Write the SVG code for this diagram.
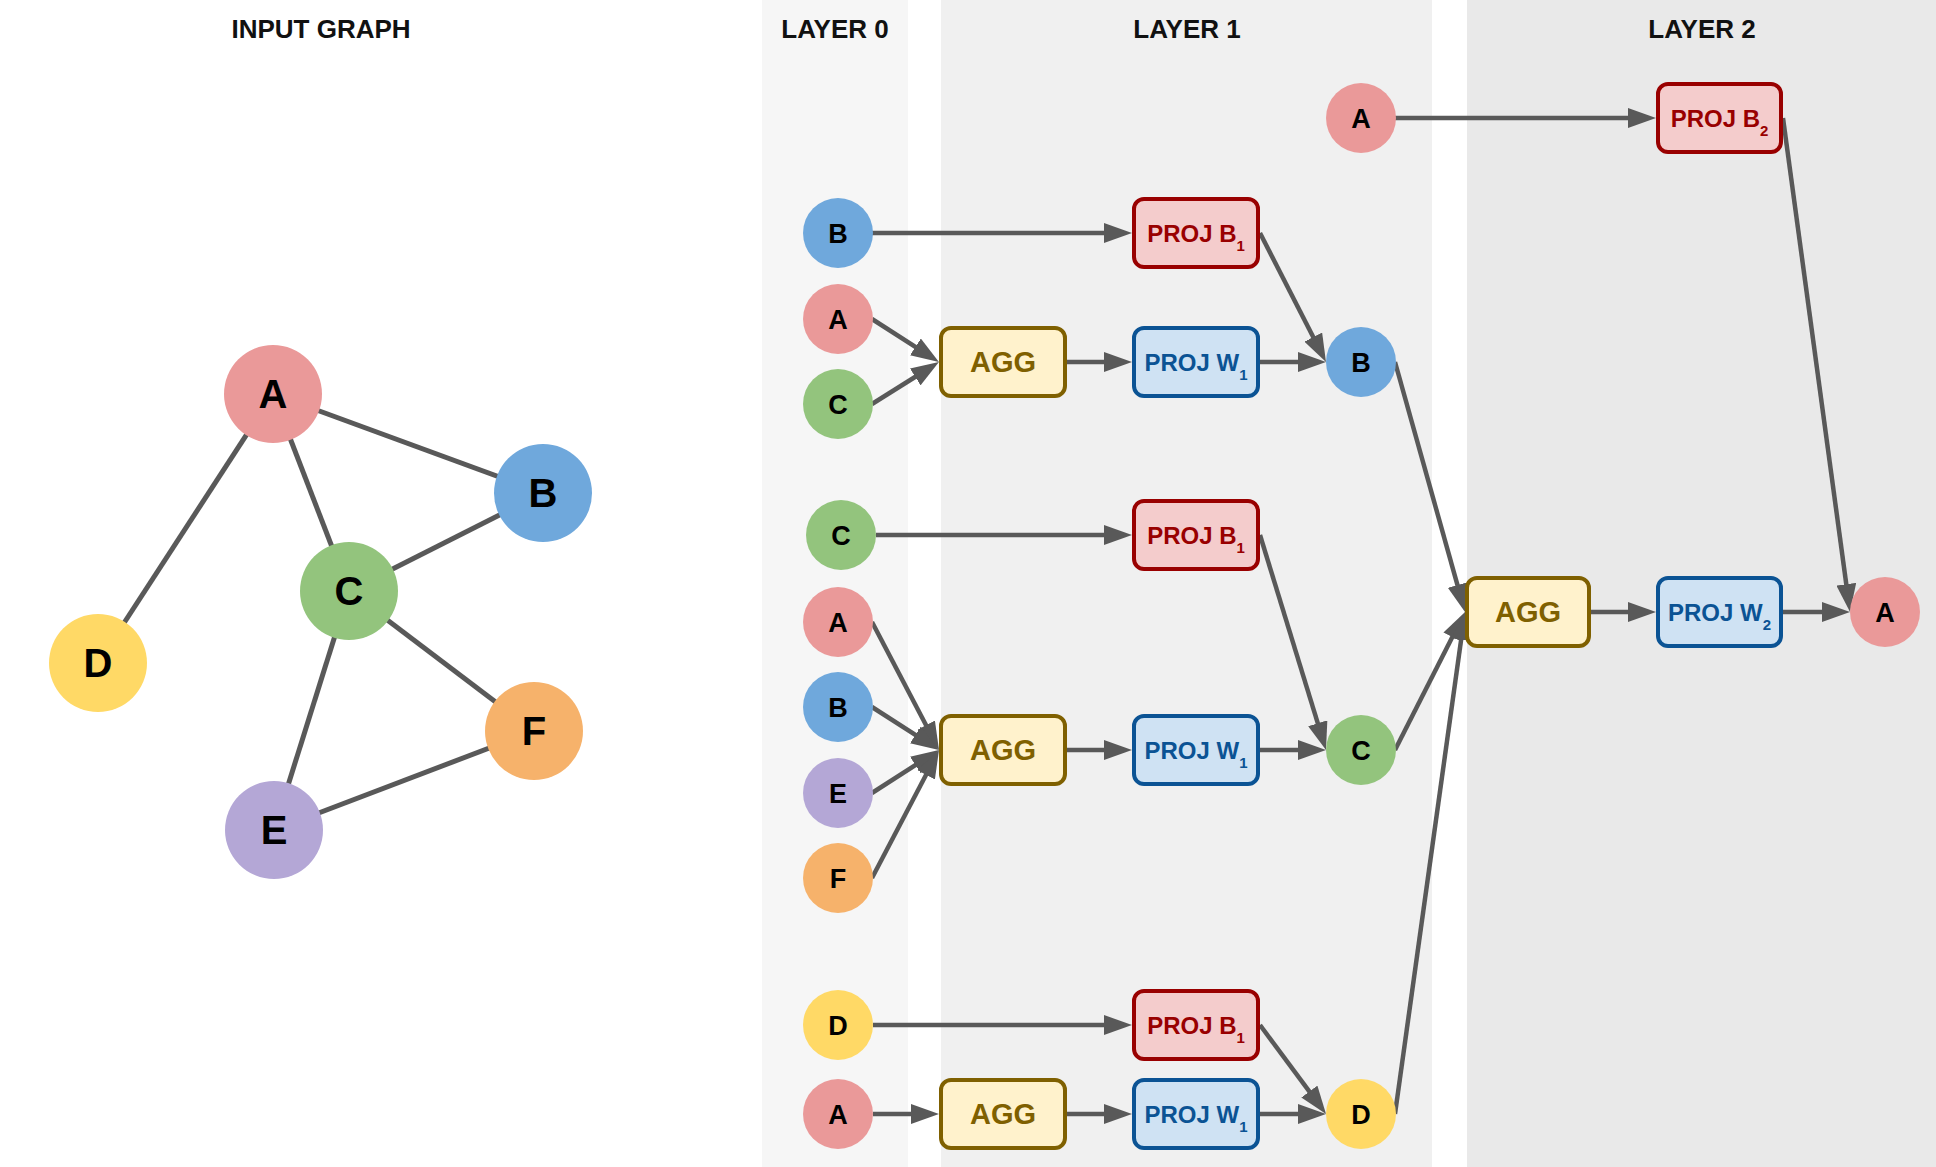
<svg xmlns="http://www.w3.org/2000/svg" width="1936" height="1167" viewBox="0 0 1936 1167">
<style>
text{font-family:"Liberation Sans",Arial,sans-serif;font-weight:bold;text-anchor:middle}
.title{font-size:26px;fill:#111}
.big{font-size:40px;fill:#000}
.lbl{font-size:27px;fill:#000}
.edge{stroke:#595959;stroke-width:5;fill:none}
.arr{stroke:#595959;stroke-width:4.5;fill:none;marker-end:url(#ah)}
.agg rect{fill:#fff2cc;stroke:#7f6000;stroke-width:4}
.agg text{font-size:29px;fill:#7f6000}
.pb rect{fill:#f4cccc;stroke:#990000;stroke-width:4}
.pb text{font-size:24px;fill:#990000}
.pw rect{fill:#cfe2f3;stroke:#0b5394;stroke-width:4}
.pw text{font-size:24px;fill:#0b5394}
.sub{font-size:15px}
.cA{fill:#ea9999}.cB{fill:#6fa8dc}.cC{fill:#93c47d}.cD{fill:#ffd966}.cE{fill:#b4a7d6}.cF{fill:#f6b26b}
</style>
<defs>
<marker id="ah" viewBox="0 0 28 20" markerWidth="28" markerHeight="20" markerUnits="userSpaceOnUse" refX="12" refY="10" orient="auto">
<path d="M0,0 L28,10 L0,20 z" fill="#595959"/>
</marker>
</defs>
<rect x="0" y="0" width="1936" height="1167" fill="#ffffff"/>
<g id="bands">
<rect x="762" y="0" width="146" height="1167" fill="#f6f6f6"/>
<rect x="941" y="0" width="491" height="1167" fill="#f0f0f0"/>
<rect x="1467" y="0" width="469" height="1167" fill="#e9e9e9"/>
</g>
<g id="titles">
<text class="title" x="321" y="38">INPUT GRAPH</text>
<text class="title" x="835" y="38">LAYER 0</text>
<text class="title" x="1187" y="38">LAYER 1</text>
<text class="title" x="1702" y="38">LAYER 2</text>
</g>
<g id="graph-edges">
<line class="edge" x1="273" y1="394" x2="543" y2="493"/>
<line class="edge" x1="273" y1="394" x2="349" y2="591"/>
<line class="edge" x1="273" y1="394" x2="98" y2="663"/>
<line class="edge" x1="543" y1="493" x2="349" y2="591"/>
<line class="edge" x1="349" y1="591" x2="274" y2="830"/>
<line class="edge" x1="349" y1="591" x2="534" y2="731"/>
<line class="edge" x1="274" y1="830" x2="534" y2="731"/>
</g>
<g id="g-A"><circle class="cA" cx="273" cy="394" r="49"/><text class="big" x="273" y="408">A</text></g>
<g id="g-B"><circle class="cB" cx="543" cy="493" r="49"/><text class="big" x="543" y="507">B</text></g>
<g id="g-C"><circle class="cC" cx="349" cy="591" r="49"/><text class="big" x="349" y="605">C</text></g>
<g id="g-D"><circle class="cD" cx="98" cy="663" r="49"/><text class="big" x="98" y="677">D</text></g>
<g id="g-E"><circle class="cE" cx="274" cy="830" r="49"/><text class="big" x="274" y="844">E</text></g>
<g id="g-F"><circle class="cF" cx="534" cy="731" r="49"/><text class="big" x="534" y="745">F</text></g>

<g id="connectors">
<line class="arr" x1="872" y1="233" x2="1116" y2="233"/>
<line class="arr" x1="872" y1="319" x2="925.5" y2="353.4"/>
<line class="arr" x1="872" y1="404" x2="925.4" y2="370.5"/>
<line class="arr" x1="1067" y1="362" x2="1116" y2="362"/>
<line class="arr" x1="1260" y1="362" x2="1310" y2="362"/>
<line class="arr" x1="1260" y1="233" x2="1318.7" y2="347.8"/>
<line class="arr" x1="1395" y1="118" x2="1640" y2="118"/>
<line class="arr" x1="1783" y1="118" x2="1847.9" y2="596.1"/>
<line class="arr" x1="1395" y1="362" x2="1460.7" y2="596.6"/>
<line class="arr" x1="1395" y1="750" x2="1457.8" y2="626.3"/>
<line class="arr" x1="1395" y1="1114" x2="1462.8" y2="627.8"/>
<line class="arr" x1="1590" y1="612" x2="1640" y2="612"/>
<line class="arr" x1="1783" y1="612" x2="1834" y2="612"/>
<line class="arr" x1="876" y1="535" x2="1116" y2="535"/>
<line class="arr" x1="872" y1="622" x2="931.6" y2="735.8"/>
<line class="arr" x1="872" y1="707" x2="925.5" y2="741.4"/>
<line class="arr" x1="872" y1="793" x2="925.5" y2="758.6"/>
<line class="arr" x1="872" y1="878" x2="931.6" y2="764.2"/>
<line class="arr" x1="1067" y1="750" x2="1116" y2="750"/>
<line class="arr" x1="1260" y1="750" x2="1310" y2="750"/>
<line class="arr" x1="1260" y1="535" x2="1321.3" y2="734.7"/>
<line class="arr" x1="873" y1="1025" x2="1116" y2="1025"/>
<line class="arr" x1="873" y1="1114" x2="923" y2="1114"/>
<line class="arr" x1="1067" y1="1114" x2="1116" y2="1114"/>
<line class="arr" x1="1260" y1="1114" x2="1310" y2="1114"/>
<line class="arr" x1="1260" y1="1025" x2="1316.5" y2="1101.2"/>
</g>

<g id="l0-B1"><circle class="cB" cx="838" cy="233" r="35"/><text class="lbl" x="838" y="243">B</text></g>
<g id="l0-A1"><circle class="cA" cx="838" cy="319" r="35"/><text class="lbl" x="838" y="329">A</text></g>
<g id="l0-C1"><circle class="cC" cx="838" cy="404" r="35"/><text class="lbl" x="838" y="414">C</text></g>
<g id="l0-C2"><circle class="cC" cx="841" cy="535" r="35"/><text class="lbl" x="841" y="545">C</text></g>
<g id="l0-A2"><circle class="cA" cx="838" cy="622" r="35"/><text class="lbl" x="838" y="632">A</text></g>
<g id="l0-B2"><circle class="cB" cx="838" cy="707" r="35"/><text class="lbl" x="838" y="717">B</text></g>
<g id="l0-E2"><circle class="cE" cx="838" cy="793" r="35"/><text class="lbl" x="838" y="803">E</text></g>
<g id="l0-F2"><circle class="cF" cx="838" cy="878" r="35"/><text class="lbl" x="838" y="888">F</text></g>
<g id="l0-D3"><circle class="cD" cx="838" cy="1025" r="35"/><text class="lbl" x="838" y="1035">D</text></g>
<g id="l0-A3"><circle class="cA" cx="838" cy="1114" r="35"/><text class="lbl" x="838" y="1124">A</text></g>

<g id="l1-agg1" class="agg"><rect x="941" y="328" width="124" height="68" rx="10"/><text x="1003" y="372">AGG</text></g>
<g id="l1-pb1" class="pb"><rect x="1134" y="199" width="124" height="68" rx="10"/><text x="1196" y="242">PROJ B<tspan class="sub" dy="9">1</tspan></text></g>
<g id="l1-pw1" class="pw"><rect x="1134" y="328" width="124" height="68" rx="10"/><text x="1196" y="371">PROJ W<tspan class="sub" dy="9">1</tspan></text></g>
<g id="l1-B"><circle class="cB" cx="1361" cy="362" r="35"/><text class="lbl" x="1361" y="372">B</text></g>

<g id="l1-agg2" class="agg"><rect x="941" y="716" width="124" height="68" rx="10"/><text x="1003" y="760">AGG</text></g>
<g id="l1-pb2" class="pb"><rect x="1134" y="501" width="124" height="68" rx="10"/><text x="1196" y="544">PROJ B<tspan class="sub" dy="9">1</tspan></text></g>
<g id="l1-pw2" class="pw"><rect x="1134" y="716" width="124" height="68" rx="10"/><text x="1196" y="759">PROJ W<tspan class="sub" dy="9">1</tspan></text></g>
<g id="l1-C"><circle class="cC" cx="1361" cy="750" r="35"/><text class="lbl" x="1361" y="760">C</text></g>

<g id="l1-agg3" class="agg"><rect x="941" y="1080" width="124" height="68" rx="10"/><text x="1003" y="1124">AGG</text></g>
<g id="l1-pb3" class="pb"><rect x="1134" y="991" width="124" height="68" rx="10"/><text x="1196" y="1034">PROJ B<tspan class="sub" dy="9">1</tspan></text></g>
<g id="l1-pw3" class="pw"><rect x="1134" y="1080" width="124" height="68" rx="10"/><text x="1196" y="1123">PROJ W<tspan class="sub" dy="9">1</tspan></text></g>
<g id="l1-D"><circle class="cD" cx="1361" cy="1114" r="35"/><text class="lbl" x="1361" y="1124">D</text></g>

<g id="l1-A"><circle class="cA" cx="1361" cy="118" r="35"/><text class="lbl" x="1361" y="128">A</text></g>
<g id="l2-pb" class="pb"><rect x="1658" y="84" width="123" height="68" rx="10"/><text x="1719.5" y="127">PROJ B<tspan class="sub" dy="9">2</tspan></text></g>
<g id="l2-agg" class="agg"><rect x="1467" y="578" width="122" height="68" rx="10"/><text x="1528" y="622">AGG</text></g>
<g id="l2-pw" class="pw"><rect x="1658" y="578" width="123" height="68" rx="10"/><text x="1719.5" y="621">PROJ W<tspan class="sub" dy="9">2</tspan></text></g>
<g id="l2-A"><circle class="cA" cx="1885" cy="612" r="35"/><text class="lbl" x="1885" y="622">A</text></g>
</svg>
